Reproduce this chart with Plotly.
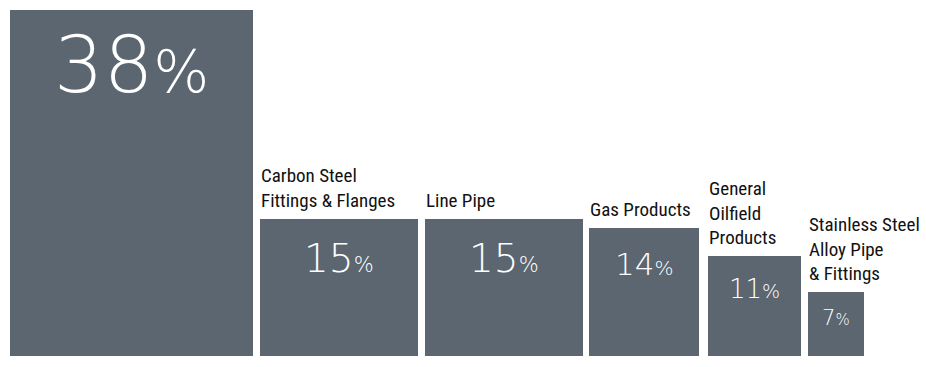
import plotly.graph_objects as go

# Share of sales by product line (%)
categories = [
    "",
    "Carbon Steel<br>Fittings & Flanges",
    "Line Pipe",
    "Gas Products",
    "General<br>Oilfield<br>Products",
    "Stainless Steel<br>Alloy Pipe<br>& Fittings",
]
values = [38, 15, 15, 14, 11, 7]

# Bar geometry on a pixel-like x axis (left edge and width of each block)
bar_left = [10, 260, 425, 589, 708, 808]
bar_width = [243, 158, 158, 110, 93, 56]
# Size of the percentage figures inside each block: (digits px, % sign px)
num_size = [78, 39, 39, 31, 26, 21]
pct_size = [59, 21, 21, 20, 19, 15]
# Downward offset of each percentage figure from the block's top edge
num_drop = [8, 14.5, 14.5, 16, 16, 11.5]

BAR_COLOR = "#5b6670"
W, H = 926, 367
PX_PER_UNIT = 9.11
BASE_PX = 11  # distance of the zero line from the bottom edge

centers = [l + w / 2 for l, w in zip(bar_left, bar_width)]

fig = go.Figure(
    go.Bar(
        x=centers,
        y=values,
        width=bar_width,
        marker=dict(color=BAR_COLOR, line=dict(width=0)),
        hoverinfo="skip",
    )
)

annotations = []
for i, v in enumerate(values):
    annotations.append(
        dict(
            x=centers[i], y=v, xref="x", yref="y",
            xanchor="center", yanchor="top",
            yshift=-num_drop[i],
            showarrow=False,
            text=f"{v}<span style='font-size:{pct_size[i]}px'>%</span>",
            font=dict(family="DejaVu Sans", size=num_size[i], color="white", weight=200),
        )
    )
    if categories[i]:
        annotations.append(
            dict(
                x=bar_left[i], y=v, xref="x", yref="y",
                xanchor="left", yanchor="bottom", align="left",
                xshift=-1, yshift=5,
                showarrow=False,
                text=categories[i],
                font=dict(family="Liberation Sans Narrow, Arial Narrow, Roboto Condensed, sans-serif",
                          size=19, color="#111111"),
            )
        )

fig.update_layout(
    width=W, height=H,
    margin=dict(l=0, r=0, t=0, b=0),
    paper_bgcolor="white", plot_bgcolor="white",
    showlegend=False,
    bargap=0,
    xaxis=dict(range=[0, W], visible=False, fixedrange=True),
    yaxis=dict(range=[-BASE_PX / PX_PER_UNIT, (H - BASE_PX) / PX_PER_UNIT],
               visible=False, fixedrange=True),
    annotations=annotations,
)

fig.write_html("out.html", config={"displayModeBar": False})
